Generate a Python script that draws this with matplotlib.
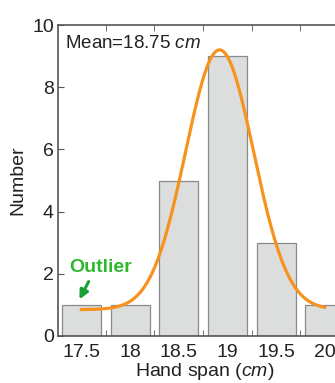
import numpy as np
import matplotlib
matplotlib.use("Agg")
import matplotlib.pyplot as plt

plt.rcParams['font.family'] = ['Liberation Sans', 'DejaVu Sans']
plt.rcParams['mathtext.fontset'] = 'custom'
plt.rcParams['mathtext.rm'] = 'Liberation Sans'
plt.rcParams['mathtext.it'] = 'Liberation Sans:italic'

## Data
span = [17.5, 18.0, 18.5, 19.0, 19.5, 20.0]
counts = [1, 1, 5, 9, 3, 1]
tick_labels = ['17.5', '18', '18.5', '19', '19.5', '20']
bin_edges = [17.75, 18.25, 18.75, 19.25, 19.75]

# gaussian fit
fit_mu = 18.92
fit_sigma = 0.35
fit_amp = 8.35
fit_base = 0.85
fit_range = (17.5, 20.0)

## Plot
fig = plt.figure(figsize=(3.35, 3.83), dpi=100)
ax = fig.add_axes([58/335, 47/383, 293/335, 311/383])

ax.bar(span, counts, width=0.4, color='#dcdddd', edgecolor='#8a8a8a', linewidth=0.9, zorder=2)

xs = np.linspace(fit_range[0], fit_range[1], 300)
ys = fit_base + fit_amp*np.exp(-(xs - fit_mu)**2/(2*fit_sigma**2))
ax.plot(xs, ys, color='#f7921e', lw=2.3, zorder=3)

ax.set_xlim(17.26, 20.27)
ax.set_ylim(0, 10)

ax.set_xticks(span)
ax.set_xticklabels(tick_labels)
ax.set_xticks(bin_edges, minor=True)
ax.set_yticks([0, 2, 4, 6, 8, 10])
ax.tick_params(axis='x', which='major', length=0, labelsize=14, pad=6, colors='#222222')
ax.tick_params(axis='x', which='minor', direction='in', length=4, top=True, bottom=True, color='#555555')
ax.tick_params(axis='y', which='major', direction='in', length=4, labelsize=14, pad=3, color='#555555', labelcolor='#222222')
for s in ax.spines.values():
    s.set_color('#555555')
    s.set_linewidth(1.2)

ax.set_xlabel('Hand span ($\\it{cm}$)', fontsize=14, labelpad=0, color='#222222')
ax.set_ylabel('Number', fontsize=14, labelpad=4, color='#222222')

ax.text(0.024, 0.942, 'Mean=18.75 $\\it{cm}$', transform=ax.transAxes, fontsize=13.5,
        va='center', ha='left', color='#222222')

ax.text(17.38, 2.2, 'Outlier', color='#2eb82e', fontsize=14, fontweight='bold', va='center', ha='left')
ax.annotate('', xy=(17.48, 1.18), xytext=(17.575, 1.75),
            arrowprops=dict(arrowstyle='-|>', color='#1aa032', lw=2.2, mutation_scale=13,
                            shrinkA=0, shrinkB=0))

fig.savefig('out.png', dpi=100)
